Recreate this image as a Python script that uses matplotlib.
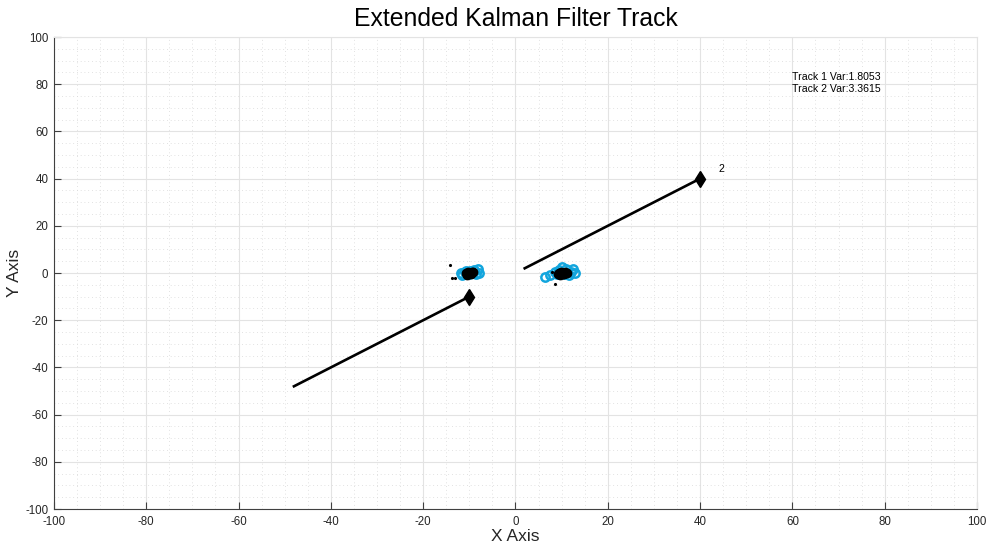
import matplotlib
matplotlib.use("Agg")
import matplotlib.pyplot as plt
from matplotlib.ticker import MultipleLocator

plt.rcParams['font.family'] = ['Liberation Sans', 'DejaVu Sans']
plt.rcParams['axes.unicode_minus'] = False

# Track lines (start -> end)
track1_x = [-48, -10]
track1_y = [-48, -10]
track2_x = [2, 40]
track2_y = [2, 40]

# Measurements (cyan circles)
meas1_x = [-11.5, -11.0, -10.5, -9.8, -9.0, -8.2, -7.8, -8.5, -10.0, -11.8, -9.3, -10.7]
meas1_y = [-0.8, 0.5, -0.3, 1.0, 1.2, 1.6, 0.2, -0.3, -0.6, -0.2, 0.0, 1.0]
meas2_x = [6.5, 7.5, 8.5, 9.5, 10.0, 11.0, 12.0, 12.5, 11.5, 10.5, 9.0, 12.8]
meas2_y = [-1.5, -0.8, 0.3, 1.2, 2.5, 1.5, 0.5, 1.8, -0.8, -0.5, -0.5, 0.2]

# Estimates: stray points and dense blob
stray1_x = [-14.2, -13.8, -13.0]
stray1_y = [3.4, -2.0, -2.0]
blob1_x = [-10.2, -9.8, -10.5, -9.5, -10.0, -10.8, -9.6, -10.3, -9.2, -10.6]
blob1_y = [0.2, -0.2, -0.4, 0.4, 0.0, 0.1, -0.5, 0.6, 0.3, -0.9]
stray2_x = [8.6, 8.0]
stray2_y = [-4.8, 0.3]
blob2_x = [9.5, 10.2, 10.8, 9.8, 10.5, 9.2, 10.0, 11.2, 9.6]
blob2_y = [0.2, -0.3, 0.5, 0.6, -0.6, -0.4, 0.0, 0.1, -0.8]

track_label = "2"
track_label_pos = (44, 43)
var_texts = ["Track 1 Var:1.8053", "Track 2 Var:3.3615"]

fig = plt.figure(figsize=(9.9, 5.51), dpi=100)
ax = fig.add_axes([0.0545, 0.0762, 0.9324, 0.8566])

cyan = '#12a5dd'
ax.plot(track1_x, track1_y, color='black', lw=1.9)
ax.plot(track2_x, track2_y, color='black', lw=1.9)
ax.plot(track1_x[-1], track1_y[-1], marker='d', color='black', ms=8, ls='none')
ax.plot(track2_x[-1], track2_y[-1], marker='d', color='black', ms=8, ls='none')

for mx, my in [(meas1_x, meas1_y), (meas2_x, meas2_y)]:
    ax.plot(mx, my, 'o', mfc='none', mec=cyan, mew=1.8, ms=6, ls='none')
for sx, sy in [(stray1_x, stray1_y), (stray2_x, stray2_y)]:
    ax.plot(sx, sy, '.', color='black', ms=2.5, ls='none')
for bx, by in [(blob1_x, blob1_y), (blob2_x, blob2_y)]:
    ax.plot(bx, by, 'o', color='black', ms=6, ls='none')

ax.text(track_label_pos[0], track_label_pos[1], track_label, fontsize=7.6)
ax.text(60, 83, var_texts[0], fontsize=7.6, va='center')
ax.text(60, 78, var_texts[1], fontsize=7.6, va='center')

ax.set_xlim(-100, 100)
ax.set_ylim(-100, 100)
ax.xaxis.set_major_locator(MultipleLocator(20))
ax.yaxis.set_major_locator(MultipleLocator(20))
ax.xaxis.set_minor_locator(MultipleLocator(5))
ax.yaxis.set_minor_locator(MultipleLocator(5))
ax.grid(True, which='major', color='#e3e3e3', lw=0.8, ls='-')
ax.grid(True, which='minor', color='#d8d8d8', lw=0.6, ls=(0, (1, 3.5)))
ax.set_axisbelow(True)

axc = '#404040'
for s in ['left', 'bottom']:
    ax.spines[s].set_color(axc)
    ax.spines[s].set_linewidth(0.8)
for s in ['top', 'right']:
    ax.spines[s].set_color('#e3e3e3')
    ax.spines[s].set_linewidth(0.8)
ax.tick_params(which='major', direction='in', length=5, width=0.8, color=axc,
               labelcolor='#262626', labelsize=8.3, top=False, right=False)
ax.tick_params(axis='x', which='major', pad=5)
ax.tick_params(axis='y', which='major', pad=4)
ax.tick_params(which='minor', length=0)

ax.set_title('Extended Kalman Filter Track', fontsize=17.8, color='black', pad=8)
ax.set_xlabel('X Axis', fontsize=12.5, color='#262626', labelpad=1)
ax.set_ylabel('Y Axis', fontsize=12.5, color='#262626', labelpad=2)

fig.savefig('out.png', dpi=100)
